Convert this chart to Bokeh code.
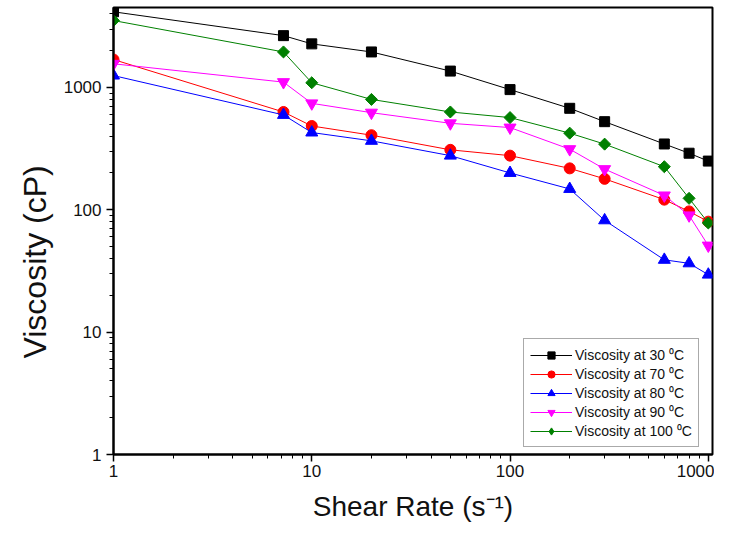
from bokeh.plotting import figure
from bokeh.models import Legend, LegendItem, LogTicker, NumeralTickFormatter, Range1d, Title
from bokeh.embed import file_html
from bokeh.resources import INLINE
import numpy as np

# ---- data ----
shear_rate = [1, 7.2, 10, 20, 50, 100, 200, 300, 600, 800, 1000]
visc_30 = [4150, 2650, 2270, 1950, 1360, 960, 675, 525, 345, 290, 250]
visc_70 = [1690, 630, 484, 407, 309, 277, 218, 179, 121, 97, 80]
visc_80 = [1250, 596, 428, 366, 277, 200, 148, 82, 39, 36.5, 29.5]
visc_90 = [1560, 1105, 741, 622, 509, 470, 313, 215, 131, 90, 51]
visc_100 = [3520, 1950, 1092, 798, 630, 567, 423, 344, 225, 124, 78]

series_labels = ["Viscosity at 30 \u2070C", "Viscosity at 70 \u2070C", "Viscosity at 80 \u2070C",
                 "Viscosity at 90 \u2070C", "Viscosity at 100 \u2070C"]

FONT = "Liberation Sans"

p = figure(width=714, height=528, x_axis_type="log", y_axis_type="log",
           x_range=Range1d(1, 1050), y_range=Range1d(1, 4500),
           output_backend="svg", toolbar_location=None,
           min_border_left=113, min_border_right=2, min_border_top=7, min_border_bottom=74)

p.xgrid.visible = False
p.ygrid.visible = False
p.outline_line_color = "black"
p.outline_line_width = 2
p.background_fill_color = "white"
p.border_fill_color = "white"

for ax in (p.xaxis[0], p.yaxis[0]):
    ax.ticker = LogTicker(num_minor_ticks=10, desired_num_ticks=4)
    ax.formatter = NumeralTickFormatter(format="0")
    ax.axis_line_width = 2
    ax.axis_line_color = "black"
    ax.major_tick_line_color = "black"
    ax.major_tick_line_width = 1.5
    ax.major_tick_out = 7
    ax.major_tick_in = 0
    ax.minor_tick_out = 4
    ax.minor_tick_in = 0
    ax.major_label_text_font = FONT
    ax.major_label_text_font_size = "17px"
    ax.major_label_text_color = "#111111"
    ax.axis_label_text_font = FONT
    ax.axis_label_text_font_style = "normal"
    ax.axis_label_text_color = "#111111"

p.xaxis.axis_label = "Shear Rate (s\u207b\u00b9)"
p.xaxis.axis_label_text_font_size = "28px"
p.xaxis.major_label_standoff = 3
p.yaxis.major_label_standoff = 5
p.xaxis.axis_label_standoff = 11

# y-axis title: sits lower than the frame centre in the original
ytitle = Title(text="Viscosity (cP)", align="left", offset=96, standoff=16,
               text_font=FONT, text_font_size="32px", text_font_style="normal",
               text_color="#111111")
p.add_layout(ytitle, "left")

colors = ["black", "red", "blue", "magenta", "green"]
markers = ["square", "circle", "triangle", "inverted_triangle", "square"]
sizes = [10, 11, 12, 12, 8.5]
angles = [0, 0, 0, 0, np.pi / 4]
datasets = [visc_30, visc_70, visc_80, visc_90, visc_100]

items = []
for ys, c, m, s, a, lab in zip(datasets, colors, markers, sizes, angles, series_labels):
    ln = p.line(shear_rate, ys, line_color=c, line_width=1)
    sc = p.scatter(shear_rate, ys, marker=m, size=s, angle=a,
                   fill_color=c, line_color=c, line_width=1)
    if a:
        sc = p.scatter(x=[float("nan")], y=[float("nan")], marker="diamond", size=15,
                       fill_color=c, line_color=c, line_width=1)
    items.append(LegendItem(label=lab, renderers=[ln, sc]))

legend = Legend(items=items, location=(410, 7))
legend.label_text_font = FONT
legend.label_text_font_size = "14px"
legend.label_text_color = "#111111"
legend.label_height = 18
legend.glyph_height = 18
legend.glyph_width = 42
legend.label_standoff = 3
legend.spacing = 0
legend.padding = 6
legend.border_line_color = "#555555"
legend.border_line_width = 1
legend.background_fill_alpha = 1
p.add_layout(legend, "center")

open("out.html", "w").write(file_html(p, INLINE))
